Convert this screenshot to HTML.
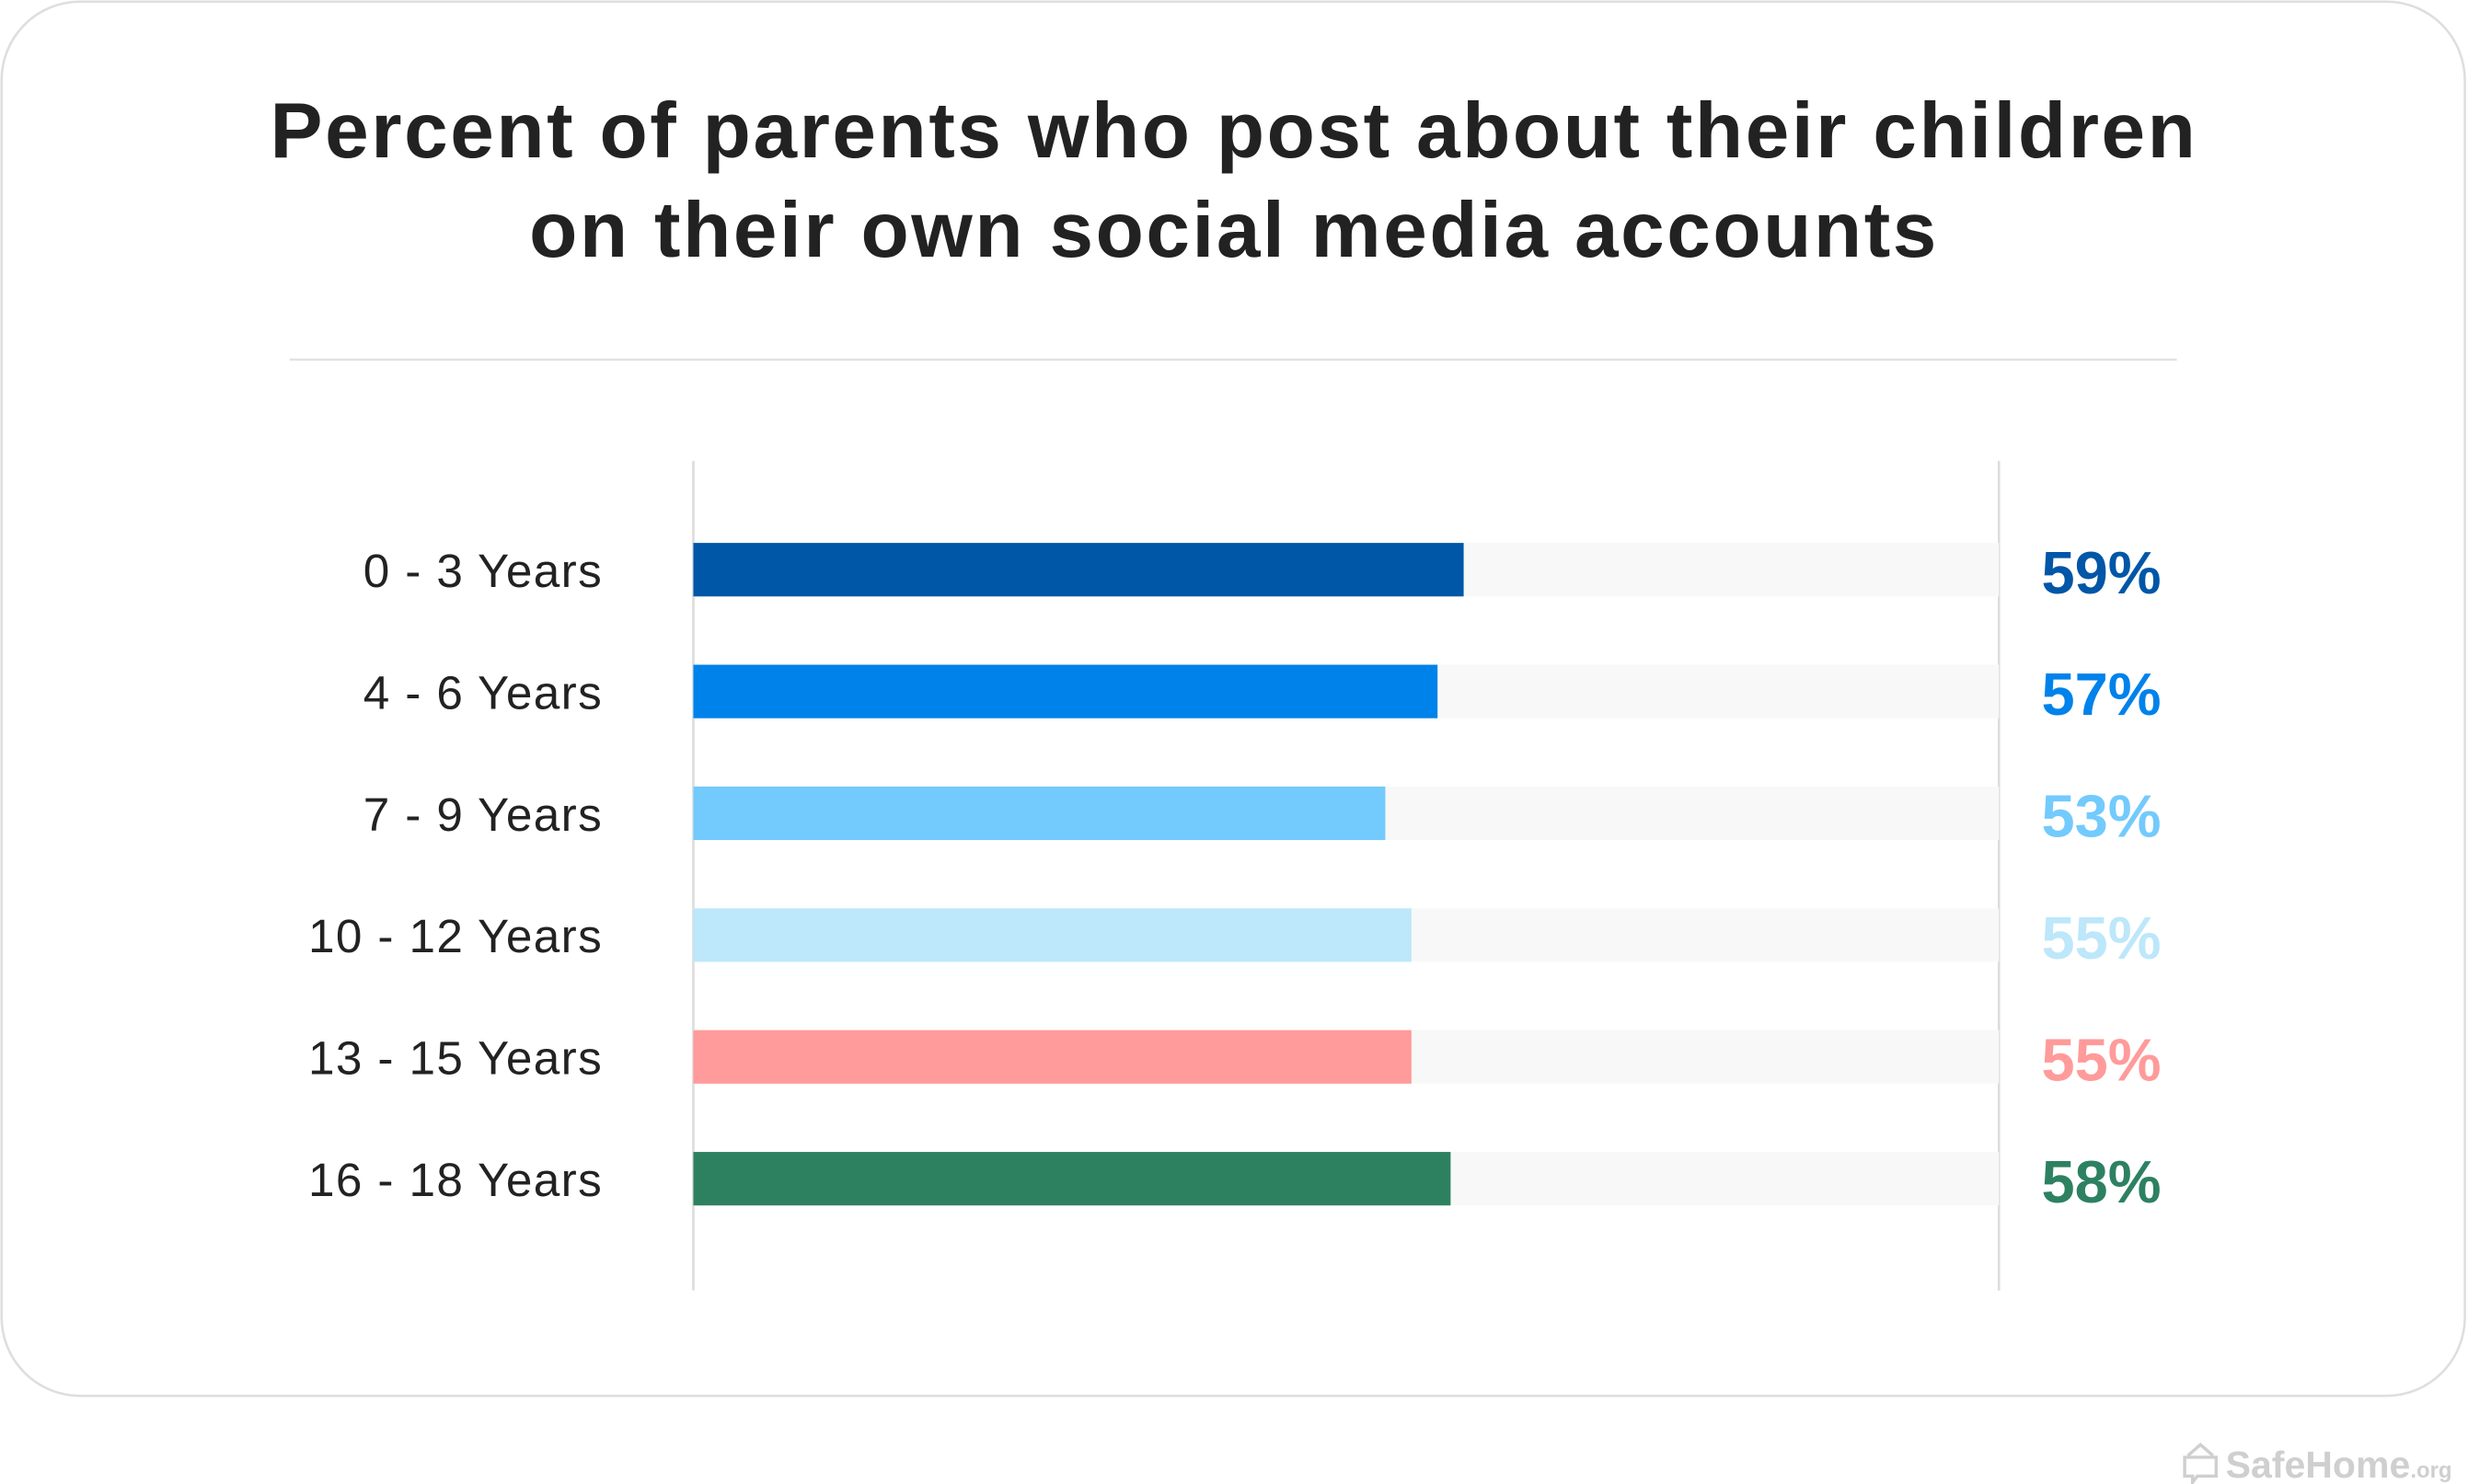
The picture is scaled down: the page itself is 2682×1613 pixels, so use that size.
<!DOCTYPE html>
<html><head><meta charset="utf-8"><style>
html,body{margin:0;padding:0;background:#fff;}
svg{display:block;}
text{font-family:"Liberation Sans",sans-serif;}
</style></head><body>
<svg id="chart" width="2682" height="1613" viewBox="0 0 1568 943" xmlns="http://www.w3.org/2000/svg">
<rect x="1" y="1" width="1565" height="886" rx="50" fill="#fff" stroke="#dedede" stroke-width="1.5"/>
<text x="784" y="100" text-anchor="middle" font-size="50" font-weight="bold" fill="#222" letter-spacing="1.5">Percent of parents who post about their children</text>
<text x="784" y="163" text-anchor="middle" font-size="50" font-weight="bold" fill="#222" letter-spacing="1.5">on their own social media accounts</text>
<line x1="184" y1="228.5" x2="1383" y2="228.5" stroke="#e2e2e2" stroke-width="1.5"/>
<line x1="440.5" y1="293" x2="440.5" y2="820" stroke="#dcdcdc" stroke-width="1.5"/>
<line x1="1270" y1="293" x2="1270" y2="820" stroke="#dcdcdc" stroke-width="1.5"/>
<g id="bars"></g>
<g fill="#cfcfcf">
<path d="M1390 925 l8 -7 l8 7 v-0 M1388 926 h20 v12 h-12 l-3 4 v-4 h-5 z" fill="none" stroke="#cfcfcf" stroke-width="2"/>
<text x="1414" y="939" font-size="24" font-weight="bold" fill="#cfcfcf">SafeHome<tspan font-size="14">.org</tspan></text>
</g>
</svg>
<script>
const categories = ["0 - 3 Years","4 - 6 Years","7 - 9 Years","10 - 12 Years","13 - 15 Years","16 - 18 Years"];
const values = [59,57,53,55,55,58];
const valueLabels = ["59%","57%","53%","55%","55%","58%"];
const colors = ["#0056a7","#0082eb","#73cafd","#bde7fa","#ff9b9a","#2d8161"];
const NS="http://www.w3.org/2000/svg";
const x0=440.5, x1=1270, y0=362, step=77.4, bh=34;
const xs=v=>x0+(x1-x0)*v/100;
const g=document.getElementById('bars');
categories.forEach((c,i)=>{
  const cy=y0+i*step;
  const track=document.createElementNS(NS,'rect');
  
  
  track.setAttribute('x',x0);track.setAttribute('y',cy-bh/2);track.setAttribute('width',x1-x0);track.setAttribute('height',bh);track.setAttribute('fill','#f7f8f7');
  g.appendChild(track);
  const bar=document.createElementNS(NS,'rect');
  
  
  bar.setAttribute('x',x0);bar.setAttribute('y',cy-bh/2);bar.setAttribute('width',xs(values[i])-x0);bar.setAttribute('height',bh);bar.setAttribute('fill',colors[i]);
  g.appendChild(bar);
  const lab=document.createElementNS(NS,'text');
  
  
  lab.setAttribute('x',383);lab.setAttribute('y',cy+11);lab.setAttribute('text-anchor','end');lab.setAttribute('font-size','30');lab.setAttribute('fill','#222');lab.setAttribute('letter-spacing','0.8');
  lab.textContent=c;g.appendChild(lab);
  const val=document.createElementNS(NS,'text');
  
  
  val.setAttribute('x',1297);val.setAttribute('y',cy+15);val.setAttribute('font-size','38');val.setAttribute('font-weight','bold');val.setAttribute('fill',colors[i]);
  val.textContent=valueLabels[i];g.appendChild(val);
});
</script>
</body></html>
